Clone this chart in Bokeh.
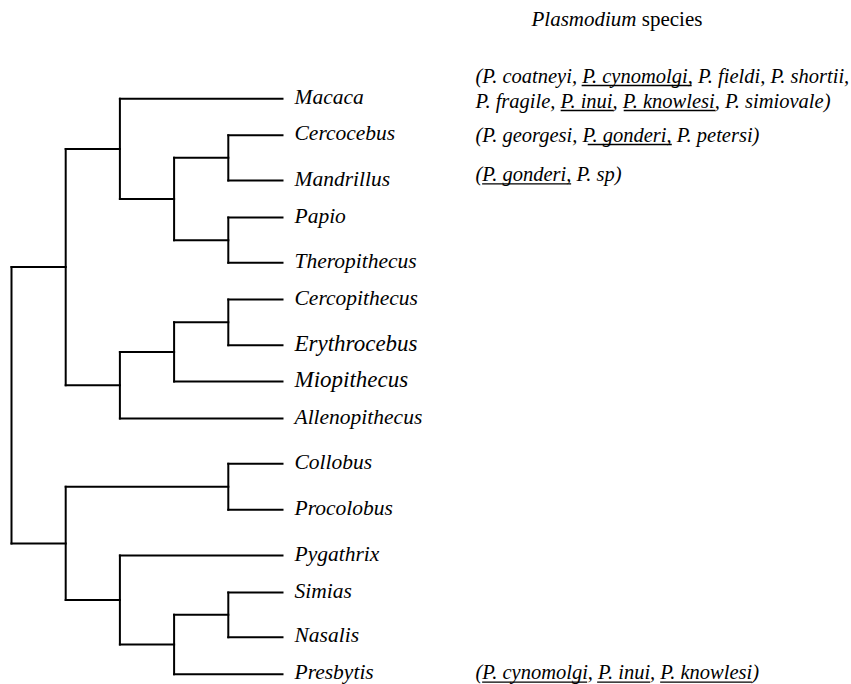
from bokeh.plotting import figure
from bokeh.models import Range1d, ColumnDataSource
from bokeh.core.properties import value
from bokeh.embed import file_html
from bokeh.resources import INLINE

# ---------------- data ----------------
leaf_names = ["Macaca", "Cercocebus", "Mandrillus", "Papio", "Theropithecus",
              "Cercopithecus", "Erythrocebus", "Miopithecus", "Allenopithecus",
              "Collobus", "Procolobus", "Pygathrix", "Simias", "Nasalis", "Presbytis"]
# vertical row of each leaf (page pixels)
leaf_rows = [98.3, 134.7, 180.0, 217.0, 262.3, 299.0, 344.7, 381.0, 418.0,
             463.3, 509.3, 555.0, 592.0, 636.7, 673.7]

tree = (
    (("Macaca", (("Cercocebus", "Mandrillus"), ("Papio", "Theropithecus"))),
     ((("Cercopithecus", "Erythrocebus"), "Miopithecus"), "Allenopithecus")),
    (("Collobus", "Procolobus"),
     ("Pygathrix", (("Simias", "Nasalis"), "Presbytis"))),
)

title_italic = "Plasmodium"
title_plain = "species"

hosts = ["Macaca", "Cercocebus", "Mandrillus", "Presbytis"]
host_lines = [
    ["(P. coatneyi, P. cynomolgi, P. fieldi, P. shortii,",
     "P. fragile, P. inui, P. knowlesi, P. simiovale)"],
    [" (P. georgesi, P. gonderi, P. petersi)"],
    ["(P. gonderi, P. sp)"],
    ["(P. cynomolgi, P. inui, P. knowlesi)"],
]
underlined = [
    ["P. cynomolgi,", "P. inui", "P. knowlesi"],
    ["P. gonderi"],
    ["P. gonderi,"],
    ["P. cynomolgi", "P. inui", "P. knowlesi"],
]

# ---------------- layout / style ----------------
W, H = 851, 684
X0, STEP, MAXD = 11.0, 54.2, 5
LABEL_GAP = 12
LABEL_FS = 21.5
BIG_LABELS = {"Erythrocebus": 23, "Miopithecus": 23}
LABEL_BASE = 4.5          # baseline below the branch line
TEXT_SHIFT = 6.5          # rendering shift of alphabetic baseline in svg
ANN_X = 475
ANN_FS = 20.5
ANN_LEAD = 25
ANN_BASE_OFFSET = {"Macaca": -16.6, "Cercocebus": 6.0, "Mandrillus": 0.0, "Presbytis": 4.6}
TITLE_X, TITLE_Y, TITLE_FS = 531, 25, 21
FONT = "Liberation Serif"
WIDTH_CAL = 0.971         # calibration of the width table to the rendered font

# Times italic advance widths (em)
IT_W = {' ': .25, '(': .333, ')': .333, ',': .25, '.': .25, 'P': .611,
        'a': .5, 'b': .5, 'c': .444, 'd': .5, 'e': .444, 'f': .278, 'g': .5,
        'h': .5, 'i': .278, 'k': .444, 'l': .278, 'm': .722, 'n': .5, 'o': .5,
        'p': .5, 'r': .389, 's': .389, 't': .278, 'u': .5, 'v': .444,
        'w': .667, 'y': .444}


def tw(s, fs, cal=1.0):
    return sum(IT_W.get(ch, .5) for ch in s) * fs * cal


row_of = dict(zip(leaf_names, leaf_rows))

p = figure(width=W, height=H, x_range=Range1d(0, W), y_range=Range1d(H, 0),
           output_backend="svg", toolbar_location=None, min_border=0,
           x_axis_type=None, y_axis_type=None)
p.xgrid.visible = False
p.ygrid.visible = False
p.outline_line_color = None
p.background_fill_color = "white"
p.border_fill_color = "white"

segs = dict(x0=[], y0=[], x1=[], y1=[])


def xpos(h):
    return X0 + (MAXD - h) * STEP


def build(node):
    if isinstance(node, str):
        return row_of[node], 0
    kids = [build(c) for c in node]
    h = max(k[1] for k in kids) + 1
    xn = xpos(h)
    for (yc, hc) in kids:
        segs["x0"].append(xn); segs["y0"].append(yc)
        segs["x1"].append(xpos(hc)); segs["y1"].append(yc)
    ys = [k[0] for k in kids]
    segs["x0"].append(xn); segs["y0"].append(min(ys))
    segs["x1"].append(xn); segs["y1"].append(max(ys))
    return sum(ys) / len(ys), h


build(tree)
p.segment("x0", "y0", "x1", "y1", source=ColumnDataSource(segs),
          line_color="black", line_width=2, line_cap="square")

# leaf labels
tip = xpos(0)
for name, r in zip(leaf_names, leaf_rows):
    fs = BIG_LABELS.get(name, LABEL_FS)
    p.text(x=[tip + LABEL_GAP], y=[r + LABEL_BASE - TEXT_SHIFT], text=[name],
           text_font=value(FONT), text_font_style="italic",
           text_font_size=f"{fs}px", text_baseline="alphabetic",
           text_align="left", text_color="black")

# title
p.text(x=[TITLE_X], y=[TITLE_Y - TEXT_SHIFT], text=[title_italic], text_font=value(FONT),
       text_font_style="italic", text_font_size=f"{TITLE_FS}px",
       text_baseline="alphabetic", text_color="black")
p.text(x=[TITLE_X + tw(title_italic, TITLE_FS) + 0.25 * TITLE_FS], y=[TITLE_Y - TEXT_SHIFT],
       text=[title_plain], text_font=value(FONT), text_font_style="normal",
       text_font_size=f"{TITLE_FS}px", text_baseline="alphabetic", text_color="black")

# annotations
ul = dict(x0=[], y0=[], x1=[], y1=[])
for host, lines, und in zip(hosts, host_lines, underlined):
    base = row_of[host] + ANN_BASE_OFFSET[host]
    for i, line in enumerate(lines):
        yb = base + i * ANN_LEAD
        p.text(x=[ANN_X], y=[yb - TEXT_SHIFT], text=[line], text_font=value(FONT),
               text_font_style="italic", text_font_size=f"{ANN_FS}px",
               text_baseline="alphabetic", text_color="black")
        for u in und:
            k = line.find(u)
            if k >= 0:
                xs = ANN_X + tw(line[:k], ANN_FS, WIDTH_CAL)
                ul["x0"].append(xs); ul["x1"].append(xs + tw(u, ANN_FS, WIDTH_CAL))
                ul["y0"].append(yb + 3.3); ul["y1"].append(yb + 3.3)
p.segment("x0", "y0", "x1", "y1", source=ColumnDataSource(ul),
          line_color="black", line_width=1.3)

open("out.html", "w").write(file_html(p, INLINE))
